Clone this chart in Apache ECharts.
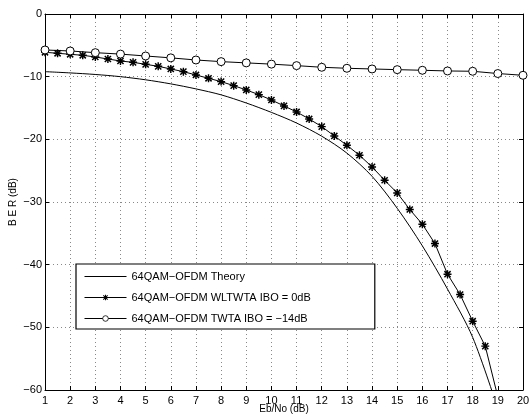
<!DOCTYPE html>
<html>
<head>
<meta charset="utf-8">
<script src="https://cdn.jsdelivr.net/npm/echarts@6/dist/echarts.min.js"></script>
<style>
html, body { margin: 0; padding: 0; background: #fff; }
#main { width: 529px; height: 416px; }
</style>
</head>
<body>
<div id="main"></div>
<script>
// Eb/No (dB) 横轴
var ebnoInt = [1, 2, 3, 4, 5, 6, 7, 8, 9, 10, 11, 12, 13, 14, 15, 16, 17, 18, 19, 20];
var ebnoHalf = [1, 1.5, 2, 2.5, 3, 3.5, 4, 4.5, 5, 5.5, 6, 6.5, 7, 7.5, 8, 8.5, 9, 9.5, 10,
    10.5, 11, 11.5, 12, 12.5, 13, 13.5, 14, 14.5, 15, 15.5, 16, 16.5, 17, 17.5, 18, 18.5, 19];

// BER (dB)
var theoryBer = [-9.2, -9.4, -9.65, -10.0, -10.5, -11.15, -11.95, -12.9, -14.2, -15.7,
    -17.4, -19.5, -22.2, -25.9, -31.0, -37.0, -43.9, -51.6, -63.0];
var wltwtaBer = [-6.11, -6.27, -6.43, -6.59, -6.86, -7.18, -7.50, -7.71, -8.03, -8.35,
    -8.77, -9.20, -9.73, -10.26, -10.79, -11.43, -12.12, -12.87, -13.72, -14.67,
    -15.63, -16.75, -17.97, -19.46, -20.95, -22.54, -24.40, -26.53, -28.55, -31.2,
    -33.55, -36.63, -41.52, -44.76, -49.02, -53.0, -61.1];
var twtaBer = [-5.74, -5.9, -6.17, -6.4, -6.7, -7.0, -7.34, -7.6, -7.8, -8.0,
    -8.24, -8.5, -8.66, -8.77, -8.88, -8.98, -9.09, -9.14, -9.5, -9.78];

var seriesNames = ['64QAM\u2212OFDM Theory', '64QAM\u2212OFDM WLTWTA IBO = 0dB', '64QAM\u2212OFDM TWTA IBO = \u221214dB'];

function pairs(xs, ys) {
    var out = [];
    for (var i = 0; i < ys.length; i++) {
        out.push([xs[i], ys[i]]);
    }
    return out;
}

// 星号标记 (MATLAB '*')
var asterisk = 'path://M-5,-0.9L5,-0.9L5,0.9L-5,0.9Z' +
    'M-0.9,-5L0.9,-5L0.9,5L-0.9,5Z' +
    'M-3.2,-4.5L4.5,3.2L3.2,4.5L-4.5,-3.2Z' +
    'M3.2,-4.5L4.5,-3.2L-3.2,4.5L-4.5,3.2Z';

var font = 'Liberation Sans, Arial, Helvetica, sans-serif';

var myChart = echarts.init(document.getElementById('main'));

var option = {
    backgroundColor: '#fff',
    animation: false,
    textStyle: { fontFamily: font, color: '#000' },
    grid: {
        left: 45,
        right: 6,
        top: 14,
        bottom: 26,
        containLabel: false,
        outerBoundsMode: 'none'
    },
    legend: {
        orient: 'vertical',
        left: 76,
        top: 264,
        data: [
            { name: seriesNames[0], itemStyle: { opacity: 0 }, lineStyle: { width: 1 } },
            { name: seriesNames[1], lineStyle: { width: 1 } },
            { name: seriesNames[2], lineStyle: { width: 1 }, itemStyle: { borderWidth: 0.8 } }
        ],
        itemWidth: 42,
        itemHeight: 7,
        itemGap: 10,
        padding: [7, 64, 5, 8],
        borderColor: '#000',
        borderWidth: 1.2,
        backgroundColor: '#fff',
        textStyle: { fontFamily: font, fontSize: 11, color: '#000' }
    },
    xAxis: [
        {
            type: 'value',
            min: 1,
            max: 20,
            interval: 1,
            name: 'Eb/No (dB)',
            nameLocation: 'middle',
            nameGap: 14,
            nameMoveOverlap: false,
            nameTextStyle: { fontFamily: font, fontSize: 10, color: '#000' },
            axisLine: { onZero: false, lineStyle: { color: '#000', width: 1 } },
            axisTick: { inside: true, length: 4, lineStyle: { color: '#000' } },
            axisLabel: { margin: 5, fontFamily: font, fontSize: 11, color: '#000' },
            splitLine: { show: true, lineStyle: { color: '#888', type: [1, 3], width: 1 } }
        },
        {
            type: 'value',
            position: 'top',
            min: 1,
            max: 20,
            interval: 1,
            axisLine: { onZero: false, lineStyle: { color: '#000', width: 1 } },
            axisTick: { inside: true, length: 4, lineStyle: { color: '#000' } },
            axisLabel: { show: false },
            splitLine: { show: false }
        }
    ],
    yAxis: [
        {
            type: 'value',
            min: -60,
            max: 0,
            interval: 10,
            name: 'B E R (dB)',
            nameLocation: 'middle',
            nameGap: 27,
            nameMoveOverlap: false,
            nameRotate: 90,
            nameTextStyle: { fontFamily: font, fontSize: 10, color: '#000' },
            axisLine: { show: true, onZero: false, lineStyle: { color: '#000', width: 1 } },
            axisTick: { show: true, inside: true, length: 4, lineStyle: { color: '#000' } },
            axisLabel: {
                margin: 3,
                fontFamily: font,
                fontSize: 11,
                color: '#000',
                formatter: function (v) {
                    return v < 0 ? '\u2212' + Math.abs(v) : String(v);
                }
            },
            splitLine: { show: true, lineStyle: { color: '#888', type: [1, 3], width: 1 } }
        },
        {
            type: 'value',
            position: 'right',
            min: -60,
            max: 0,
            interval: 10,
            axisLine: { show: true, onZero: false, lineStyle: { color: '#000', width: 1 } },
            axisTick: { show: true, inside: true, length: 4, lineStyle: { color: '#000' } },
            axisLabel: { show: false },
            splitLine: { show: false }
        }
    ],
    series: [
        {
            name: seriesNames[0],
            type: 'line',
            data: pairs(ebnoInt, theoryBer),
            symbol: 'none',
            smooth: 0.3,
            clip: true,
            lineStyle: { color: '#000', width: 1 },
            itemStyle: { color: '#000' }
        },
        {
            name: seriesNames[1],
            type: 'line',
            data: pairs(ebnoHalf, wltwtaBer),
            symbol: asterisk,
            symbolSize: 8,
            clip: true,
            lineStyle: { color: '#000', width: 1 },
            itemStyle: { color: '#000' }
        },
        {
            name: seriesNames[2],
            type: 'line',
            data: pairs(ebnoInt, twtaBer),
            symbol: 'circle',
            symbolSize: 8,
            clip: false,
            lineStyle: { color: '#000', width: 1 },
            itemStyle: { color: '#fff', borderColor: '#000', borderWidth: 1 }
        }
    ]
};

myChart.setOption(option, true);
</script>
</body>
</html>
